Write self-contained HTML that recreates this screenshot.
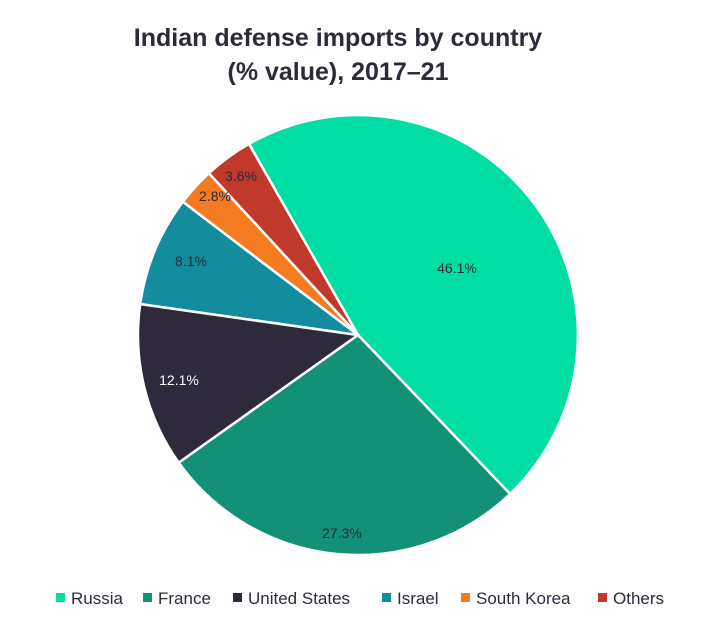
<!DOCTYPE html>
<html><head><meta charset="utf-8"><style>
body{margin:0;background:#fff;width:716px;height:629px;overflow:hidden;font-family:"Liberation Sans",sans-serif}
</style></head><body>
<svg width="716" height="629" viewBox="0 0 716 629" xmlns="http://www.w3.org/2000/svg">
<rect width="716" height="629" fill="#fff"/>
<text x="338" y="46" text-anchor="middle" font-size="25" font-weight="bold" fill="#2E2A3C" font-family="Liberation Sans, sans-serif">Indian defense imports by country</text>
<text x="338" y="80" text-anchor="middle" font-size="25" font-weight="bold" fill="#2E2A3C" font-family="Liberation Sans, sans-serif">(% value), 2017–21</text>
<g stroke="#fff" stroke-width="2.5" stroke-linejoin="round">
<path d="M358,335 L249.0,143.9 A220,220 0 0 1 510.1,493.9 Z" fill="#00DEA4"/>
<path d="M358,335 L510.1,493.9 A220,220 0 0 1 178.7,462.6 Z" fill="#139177"/>
<path d="M358,335 L178.7,462.6 A220,220 0 0 1 140.2,304.0 Z" fill="#2E2A3C"/>
<path d="M358,335 L140.2,304.0 A220,220 0 0 1 182.9,201.8 Z" fill="#138C9E"/>
<path d="M358,335 L182.9,201.8 A220,220 0 0 1 208.9,173.2 Z" fill="#F47B20"/>
<path d="M358,335 L208.9,173.2 A220,220 0 0 1 249.0,143.9 Z" fill="#C0392B"/>
</g>
<g font-size="14" fill="#2E2A3C" text-anchor="middle" font-family="Liberation Sans, sans-serif">
<text x="457" y="273">46.1%</text>
<text x="342" y="538">27.3%</text>
<text x="179" y="385" fill="#fff">12.1%</text>
<text x="191" y="266">8.1%</text>
<text x="215" y="201">2.8%</text>
<text x="241" y="181">3.6%</text>
</g>
<g font-size="17" fill="#2E2A3C" font-family="Liberation Sans, sans-serif">
<rect x="56" y="593" width="9" height="9" fill="#00DEA4"/><text x="71" y="604">Russia</text>
<rect x="143" y="593" width="9" height="9" fill="#139177"/><text x="158" y="604">France</text>
<rect x="233" y="593" width="9" height="9" fill="#2E2A3C"/><text x="248" y="604">United States</text>
<rect x="382" y="593" width="9" height="9" fill="#138C9E"/><text x="397" y="604">Israel</text>
<rect x="461" y="593" width="9" height="9" fill="#F47B20"/><text x="476" y="604">South Korea</text>
<rect x="598" y="593" width="9" height="9" fill="#C0392B"/><text x="613" y="604">Others</text>
</g>
</svg>
</body></html>
